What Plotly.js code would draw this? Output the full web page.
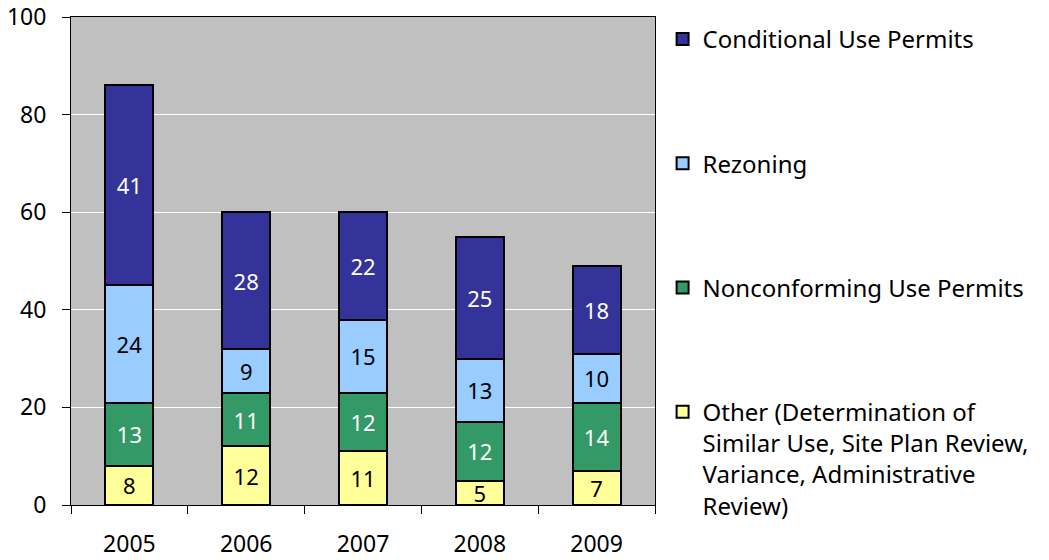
<!DOCTYPE html>
<html><head><meta charset="utf-8">
<script src="https://cdn.plot.ly/plotly-3.0.1.min.js"></script>
<style>body{margin:0;background:#fff}#c{width:1049px;height:560px}</style>
</head><body><div id="c"></div>
<script>
const years = ['2005','2006','2007','2008','2009'];
const other = [8,12,11,5,7];
const nonconforming = [13,11,12,12,14];
const rezoning = [24,9,15,13,10];
const conditional = [41,28,22,25,18];
const names = ['Other (Determination of<br>Similar Use, Site Plan Review,<br>Variance, Administrative<br>Review)','Nonconforming Use Permits','Rezoning','Conditional Use Permits'];
const colors = ['#ffff99','#339966','#99ccff','#333399'];
const textColors = ['#000','#fff','#000','#fff'];
const series = [other, nonconforming, rezoning, conditional];
const F = 'Noto Sans, Open Sans, sans-serif';
const traces = series.map((v,i)=>({
  type:'bar', x:years, y:v, name:names[i], legendgroup:'g'+(3-i), legendrank:4-i,
  marker:{color:colors[i], line:{color:'#000', width:2}},
  text:v.map(String), textposition:'inside', insidetextanchor:'middle', textangle:0,
  constraintext:'none', textfont:{family:F, size:22, color:textColors[i]},
  hoverinfo:'none'
}));
const layout = {
  width:1049, height:560, margin:{l:71, r:394, t:17, b:55},
  paper_bgcolor:'#fff', plot_bgcolor:'#c0c0c0', barmode:'stack', bargap:0.59,
  font:{family:F, size:24, color:'#000'},
  showlegend:true,
  legend:{x:1.013, y:1.0, xanchor:'left', yanchor:'top', traceorder:'grouped', tracegroupgap:90,
    valign:'top', font:{family:F, size:24, color:'#000'}, itemwidth:30, bgcolor:'rgba(0,0,0,0)',
    maxheight:600},
  xaxis:{type:'category', tickson:'boundaries', ticks:'outside', ticklen:8, tickcolor:'#000',
    showline:true, linecolor:'#000', linewidth:1, mirror:true, ticklabelstandoff:18,
    tickfont:{family:F, size:23}, showgrid:false},
  yaxis:{range:[0,100], dtick:20, ticks:'outside', ticklen:8, tickcolor:'#000',
    showline:true, linecolor:'#000', linewidth:1, mirror:true, gridcolor:'#ffffff', gridwidth:1,
    tickfont:{family:F, size:23}, ticklabelstandoff:11, zeroline:false}
};
Plotly.newPlot('c', traces, layout, {staticPlot:true});
</script></body></html>
